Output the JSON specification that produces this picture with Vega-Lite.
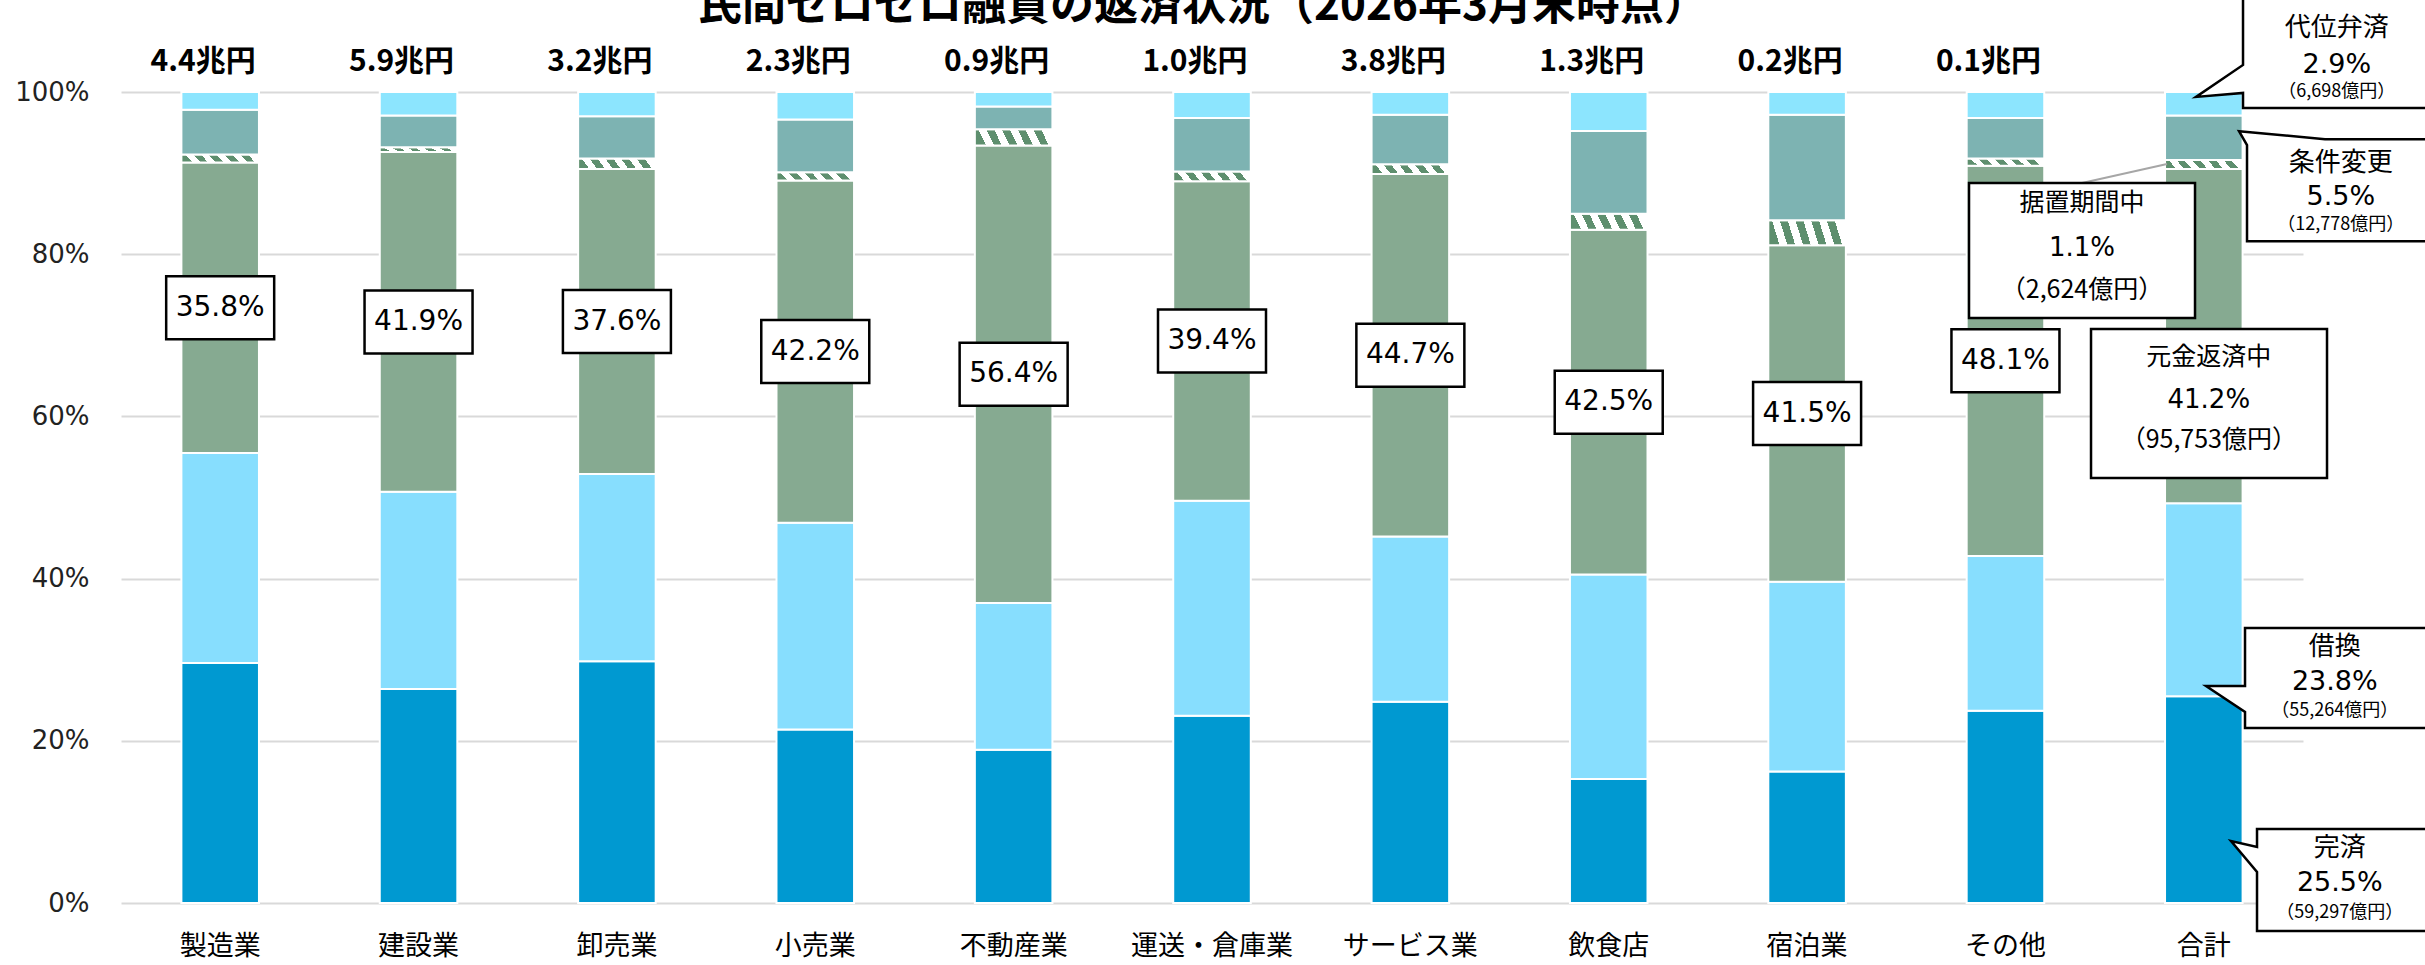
{
  "$schema": "https://vega.github.io/schema/vega-lite/v6.json",
  "width": 2182,
  "height": 811,
  "autosize": {"type": "none"},
  "padding": {"left": 121, "top": 92, "right": 122, "bottom": 62},
  "background": "white",
  "config": {"view": {"stroke": null}, "font": "Noto Sans CJK JP"},
  "title": {"text": "民間ゼロゼロ融資の返済状況（2026年3月末時点）", "font": "Noto Sans CJK JP", "fontSize": 44, "fontWeight": "bold", "color": "#000000", "anchor": "middle", "dx": -9, "dy": 39, "offset": 0},
  "datasets": {
    "main": [
      {"cat": "製造業", "seg": "完済", "o": 1, "v": 0.296},
      {"cat": "製造業", "seg": "借換", "o": 2, "v": 0.259},
      {"cat": "製造業", "seg": "元金返済中", "o": 3, "v": 0.358},
      {"cat": "製造業", "seg": "据置期間中", "o": 4, "v": 0.010},
      {"cat": "製造業", "seg": "条件変更", "o": 5, "v": 0.055},
      {"cat": "製造業", "seg": "代位弁済", "o": 6, "v": 0.022},
      {"cat": "建設業", "seg": "完済", "o": 1, "v": 0.264},
      {"cat": "建設業", "seg": "借換", "o": 2, "v": 0.243},
      {"cat": "建設業", "seg": "元金返済中", "o": 3, "v": 0.419},
      {"cat": "建設業", "seg": "据置期間中", "o": 4, "v": 0.006},
      {"cat": "建設業", "seg": "条件変更", "o": 5, "v": 0.039},
      {"cat": "建設業", "seg": "代位弁済", "o": 6, "v": 0.029},
      {"cat": "卸売業", "seg": "完済", "o": 1, "v": 0.298},
      {"cat": "卸売業", "seg": "借換", "o": 2, "v": 0.231},
      {"cat": "卸売業", "seg": "元金返済中", "o": 3, "v": 0.376},
      {"cat": "卸売業", "seg": "据置期間中", "o": 4, "v": 0.013},
      {"cat": "卸売業", "seg": "条件変更", "o": 5, "v": 0.052},
      {"cat": "卸売業", "seg": "代位弁済", "o": 6, "v": 0.030},
      {"cat": "小売業", "seg": "完済", "o": 1, "v": 0.214},
      {"cat": "小売業", "seg": "借換", "o": 2, "v": 0.255},
      {"cat": "小売業", "seg": "元金返済中", "o": 3, "v": 0.422},
      {"cat": "小売業", "seg": "据置期間中", "o": 4, "v": 0.010},
      {"cat": "小売業", "seg": "条件変更", "o": 5, "v": 0.065},
      {"cat": "小売業", "seg": "代位弁済", "o": 6, "v": 0.034},
      {"cat": "不動産業", "seg": "完済", "o": 1, "v": 0.189},
      {"cat": "不動産業", "seg": "借換", "o": 2, "v": 0.181},
      {"cat": "不動産業", "seg": "元金返済中", "o": 3, "v": 0.564},
      {"cat": "不動産業", "seg": "据置期間中", "o": 4, "v": 0.020},
      {"cat": "不動産業", "seg": "条件変更", "o": 5, "v": 0.028},
      {"cat": "不動産業", "seg": "代位弁済", "o": 6, "v": 0.018},
      {"cat": "運送・倉庫業", "seg": "完済", "o": 1, "v": 0.231},
      {"cat": "運送・倉庫業", "seg": "借換", "o": 2, "v": 0.265},
      {"cat": "運送・倉庫業", "seg": "元金返済中", "o": 3, "v": 0.394},
      {"cat": "運送・倉庫業", "seg": "据置期間中", "o": 4, "v": 0.012},
      {"cat": "運送・倉庫業", "seg": "条件変更", "o": 5, "v": 0.066},
      {"cat": "運送・倉庫業", "seg": "代位弁済", "o": 6, "v": 0.032},
      {"cat": "サービス業", "seg": "完済", "o": 1, "v": 0.248},
      {"cat": "サービス業", "seg": "借換", "o": 2, "v": 0.204},
      {"cat": "サービス業", "seg": "元金返済中", "o": 3, "v": 0.447},
      {"cat": "サービス業", "seg": "据置期間中", "o": 4, "v": 0.012},
      {"cat": "サービス業", "seg": "条件変更", "o": 5, "v": 0.061},
      {"cat": "サービス業", "seg": "代位弁済", "o": 6, "v": 0.028},
      {"cat": "飲食店", "seg": "完済", "o": 1, "v": 0.153},
      {"cat": "飲食店", "seg": "借換", "o": 2, "v": 0.252},
      {"cat": "飲食店", "seg": "元金返済中", "o": 3, "v": 0.425},
      {"cat": "飲食店", "seg": "据置期間中", "o": 4, "v": 0.020},
      {"cat": "飲食店", "seg": "条件変更", "o": 5, "v": 0.102},
      {"cat": "飲食店", "seg": "代位弁済", "o": 6, "v": 0.048},
      {"cat": "宿泊業", "seg": "完済", "o": 1, "v": 0.162},
      {"cat": "宿泊業", "seg": "借換", "o": 2, "v": 0.234},
      {"cat": "宿泊業", "seg": "元金返済中", "o": 3, "v": 0.415},
      {"cat": "宿泊業", "seg": "据置期間中", "o": 4, "v": 0.031},
      {"cat": "宿泊業", "seg": "条件変更", "o": 5, "v": 0.130},
      {"cat": "宿泊業", "seg": "代位弁済", "o": 6, "v": 0.028},
      {"cat": "その他", "seg": "完済", "o": 1, "v": 0.237},
      {"cat": "その他", "seg": "借換", "o": 2, "v": 0.191},
      {"cat": "その他", "seg": "元金返済中", "o": 3, "v": 0.481},
      {"cat": "その他", "seg": "据置期間中", "o": 4, "v": 0.009},
      {"cat": "その他", "seg": "条件変更", "o": 5, "v": 0.050},
      {"cat": "その他", "seg": "代位弁済", "o": 6, "v": 0.032},
      {"cat": "合計", "seg": "完済", "o": 1, "v": 0.255},
      {"cat": "合計", "seg": "借換", "o": 2, "v": 0.238},
      {"cat": "合計", "seg": "元金返済中", "o": 3, "v": 0.412},
      {"cat": "合計", "seg": "据置期間中", "o": 4, "v": 0.011},
      {"cat": "合計", "seg": "条件変更", "o": 5, "v": 0.055},
      {"cat": "合計", "seg": "代位弁済", "o": 6, "v": 0.029}
    ],
    "totals": [
      {"cat": "製造業", "t": "4.4兆円"},
      {"cat": "建設業", "t": "5.9兆円"},
      {"cat": "卸売業", "t": "3.2兆円"},
      {"cat": "小売業", "t": "2.3兆円"},
      {"cat": "不動産業", "t": "0.9兆円"},
      {"cat": "運送・倉庫業", "t": "1.0兆円"},
      {"cat": "サービス業", "t": "3.8兆円"},
      {"cat": "飲食店", "t": "1.3兆円"},
      {"cat": "宿泊業", "t": "0.2兆円"},
      {"cat": "その他", "t": "0.1兆円"}
    ],
    "callouts": [
      {"seg": "代位弁済", "pct": "2.9%", "amt": "（6,698億円）"},
      {"seg": "条件変更", "pct": "5.5%", "amt": "（12,778億円）"},
      {"seg": "据置期間中", "pct": "1.1%", "amt": "（2,624億円）"},
      {"seg": "元金返済中", "pct": "41.2%", "amt": "（95,753億円）"},
      {"seg": "借換", "pct": "23.8%", "amt": "（55,264億円）"},
      {"seg": "完済", "pct": "25.5%", "amt": "（59,297億円）"}
    ]
  },
  "layer": [
    {
      "data": {"name": "main"},
      "mark": {"type": "bar", "stroke": "white", "strokeWidth": 2},
      "encoding": {
        "x": {"field": "cat", "type": "nominal", "sort": null,
          "scale": {"domain": ["製造業", "建設業", "卸売業", "小売業", "不動産業", "運送・倉庫業", "サービス業", "飲食店", "宿泊業", "その他", "合計"], "paddingInner": 0.609, "paddingOuter": 0.3045},
          "axis": {"title": null, "domain": false, "ticks": false, "labelAngle": 0, "labelFontSize": 27, "labelFont": "Noto Sans CJK JP", "labelColor": "#000000", "labelPadding": 43, "labelBaseline": "middle", "grid": false}},
        "y": {"field": "v", "type": "quantitative", "stack": "zero",
          "scale": {"domain": [0, 1], "nice": false, "zero": true},
          "axis": {"title": null, "values": [0, 0.2, 0.4, 0.6, 0.8, 1], "format": ".0%", "domain": false, "ticks": false, "labelFontSize": 26, "labelFont": "DejaVu Sans", "labelColor": "#222222", "labelPadding": 32, "grid": true, "gridColor": "#D9D9D9", "gridWidth": 2}},
        "order": {"field": "o", "type": "quantitative"},
        "fill": {
          "condition": {"test": "datum.seg === '据置期間中'", "value": {"gradient": "linear", "x1": 0, "y1": 0.55, "x2": 1, "y2": 0.45, "stops": [
            {"offset": 0, "color": "#5E8F6E"}, {"offset": 0.1, "color": "#5E8F6E"}, {"offset": 0.1, "color": "#FFFFFF"}, {"offset": 0.2, "color": "#FFFFFF"},
            {"offset": 0.2, "color": "#5E8F6E"}, {"offset": 0.3, "color": "#5E8F6E"}, {"offset": 0.3, "color": "#FFFFFF"}, {"offset": 0.4, "color": "#FFFFFF"},
            {"offset": 0.4, "color": "#5E8F6E"}, {"offset": 0.5, "color": "#5E8F6E"}, {"offset": 0.5, "color": "#FFFFFF"}, {"offset": 0.6, "color": "#FFFFFF"},
            {"offset": 0.6, "color": "#5E8F6E"}, {"offset": 0.7, "color": "#5E8F6E"}, {"offset": 0.7, "color": "#FFFFFF"}, {"offset": 0.8, "color": "#FFFFFF"},
            {"offset": 0.8, "color": "#5E8F6E"}, {"offset": 0.9, "color": "#5E8F6E"}, {"offset": 0.9, "color": "#FFFFFF"}, {"offset": 1, "color": "#FFFFFF"}]}},
          "field": "seg", "type": "nominal",
          "scale": {"domain": ["完済", "借換", "元金返済中", "据置期間中", "条件変更", "代位弁済"], "range": ["#0099D1", "#87DEFE", "#86AA91", "#A8C4AF", "#7DB3B2", "#8CE5FE"]},
          "legend": null
        }
      }
    },
    {
      "data": {"name": "main"},
      "mark": {"type": "point", "shape": "M-54,-31.5H54V31.5H-54Z", "size": 4, "filled": true, "fill": "white", "stroke": "black", "strokeWidth": 2.5, "fillOpacity": 1, "strokeOpacity": 1},
      "encoding": {
        "x": {"field": "cat", "type": "nominal"},
        "y": {"field": "v", "type": "quantitative", "stack": "zero", "bandPosition": 0.5},
        "order": {"field": "o", "type": "quantitative"},
        "detail": {"field": "seg", "type": "nominal"},
        "opacity": {"condition": {"test": "datum.seg === '元金返済中' && datum.cat !== '合計'", "value": 1}, "value": 0}
      }
    },
    {
      "data": {"name": "main"},
      "mark": {"type": "text", "font": "DejaVu Sans", "fontSize": 28, "baseline": "middle", "align": "center", "color": "#000000"},
      "encoding": {
        "x": {"field": "cat", "type": "nominal"},
        "y": {"field": "v", "type": "quantitative", "stack": "zero", "bandPosition": 0.5},
        "order": {"field": "o", "type": "quantitative"},
        "detail": {"field": "seg", "type": "nominal"},
        "text": {"condition": {"test": "datum.seg === '元金返済中' && datum.cat !== '合計'", "field": "v", "type": "quantitative", "format": ".1%"}, "value": ""}
      }
    },
    {
      "data": {"name": "totals"},
      "mark": {"type": "text", "font": "Noto Sans CJK JP", "fontSize": 30, "fontWeight": "bold", "baseline": "middle", "align": "center", "dy": -30, "dx": -17, "color": "#000000"},
      "encoding": {
        "x": {"field": "cat", "type": "nominal"},
        "y": {"datum": 1, "type": "quantitative"},
        "text": {"field": "t"}
      }
    },
    {
      "data": {"name": "callouts"},
      "transform": [{"filter": "datum.seg === '代位弁済'"}],
      "encoding": {"x": {"datum": "合計", "type": "nominal"}, "y": {"datum": 1.05, "type": "quantitative"}},
      "layer": [
        {"mark": {"type": "point", "shape": "M-98.5,-56.5H98.5V56.5H-98.5V41.5L-145.5,45.5L-98.5,13.5Z", "size": 4, "filled": true, "fill": "white", "stroke": "black", "strokeWidth": 2.5, "fillOpacity": 1, "strokeOpacity": 1, "opacity": 1, "xOffset": 137.7}},
        {"mark": {"type": "text", "fontSize": 26, "baseline": "middle", "align": "center", "dx": 133, "dy": -23.5, "color": "#000000"}, "encoding": {"text": {"field": "seg"}}},
        {"mark": {"type": "text", "font": "DejaVu Sans", "fontSize": 27, "baseline": "middle", "align": "center", "dx": 133, "dy": 13.5, "color": "#000000"}, "encoding": {"text": {"field": "pct"}}},
        {"mark": {"type": "text", "fontSize": 18, "baseline": "middle", "align": "center", "dx": 133, "dy": 40.5, "color": "#000000"}, "encoding": {"text": {"field": "amt"}}}
      ]
    },
    {
      "data": {"name": "callouts"},
      "transform": [{"filter": "datum.seg === '条件変更'"}],
      "encoding": {"x": {"datum": "合計", "type": "nominal"}, "y": {"datum": 0.879, "type": "quantitative"}},
      "layer": [
        {"mark": {"type": "point", "shape": "M-18.5,-51H96.5V51H-96.5V-45L-104.5,-59Z", "size": 4, "filled": true, "fill": "white", "stroke": "black", "strokeWidth": 2.5, "fillOpacity": 1, "strokeOpacity": 1, "opacity": 1, "xOffset": 139.7}},
        {"mark": {"type": "text", "fontSize": 26, "baseline": "middle", "align": "center", "dx": 137, "dy": -27, "color": "#000000"}, "encoding": {"text": {"field": "seg"}}},
        {"mark": {"type": "text", "font": "DejaVu Sans", "fontSize": 27, "baseline": "middle", "align": "center", "dx": 137, "dy": 7, "color": "#000000"}, "encoding": {"text": {"field": "pct"}}},
        {"mark": {"type": "text", "fontSize": 18, "baseline": "middle", "align": "center", "dx": 137, "dy": 35, "color": "#000000"}, "encoding": {"text": {"field": "amt"}}}
      ]
    },
    {
      "data": {"name": "callouts"},
      "transform": [{"filter": "datum.seg === '据置期間中'"}],
      "encoding": {"x": {"datum": "合計", "type": "nominal"}, "y": {"datum": 0.8045, "type": "quantitative"}},
      "layer": [
        {"mark": {"type": "point", "shape": "M0,-67.5L85,-86.5", "size": 4, "filled": false, "stroke": "#A6A6A6", "strokeWidth": 2, "strokeOpacity": 1, "opacity": 1, "xOffset": -121.8}},
        {"mark": {"type": "point", "shape": "M-113,-67.5H113V67.5H-113Z", "size": 4, "filled": true, "fill": "white", "stroke": "black", "strokeWidth": 2.5, "fillOpacity": 1, "strokeOpacity": 1, "opacity": 1, "xOffset": -121.8}},
        {"mark": {"type": "text", "fontSize": 25, "baseline": "middle", "align": "center", "dx": -121.8, "dy": -47.5, "color": "#000000"}, "encoding": {"text": {"field": "seg"}}},
        {"mark": {"type": "text", "font": "DejaVu Sans", "fontSize": 26, "baseline": "middle", "align": "center", "dx": -121.8, "dy": -2.5, "color": "#000000"}, "encoding": {"text": {"field": "pct"}}},
        {"mark": {"type": "text", "fontSize": 25, "baseline": "middle", "align": "center", "dx": -121.8, "dy": 39.5, "color": "#000000"}, "encoding": {"text": {"field": "amt"}}}
      ]
    },
    {
      "data": {"name": "callouts"},
      "transform": [{"filter": "datum.seg === '元金返済中'"}],
      "encoding": {"x": {"datum": "合計", "type": "nominal"}, "y": {"datum": 0.616, "type": "quantitative"}},
      "layer": [
        {"mark": {"type": "point", "shape": "M-118,-74.5H118V74.5H-118Z", "size": 4, "filled": true, "fill": "white", "stroke": "black", "strokeWidth": 2.5, "fillOpacity": 1, "strokeOpacity": 1, "opacity": 1, "xOffset": 5.2}},
        {"mark": {"type": "text", "fontSize": 25, "baseline": "middle", "align": "center", "dx": 5, "dy": -46.5, "color": "#000000"}, "encoding": {"text": {"field": "seg"}}},
        {"mark": {"type": "text", "font": "DejaVu Sans", "fontSize": 26, "baseline": "middle", "align": "center", "dx": 5, "dy": -3.5, "color": "#000000"}, "encoding": {"text": {"field": "pct"}}},
        {"mark": {"type": "text", "fontSize": 25, "baseline": "middle", "align": "center", "dx": 5, "dy": 36.5, "color": "#000000"}, "encoding": {"text": {"field": "amt"}}}
      ]
    },
    {
      "data": {"name": "callouts"},
      "transform": [{"filter": "datum.seg === '借換'"}],
      "encoding": {"x": {"datum": "合計", "type": "nominal"}, "y": {"datum": 0.2774, "type": "quantitative"}},
      "layer": [
        {"mark": {"type": "point", "shape": "M-97.5,-50H97.5V50H-97.5V34L-136.5,8L-97.5,8Z", "size": 4, "filled": true, "fill": "white", "stroke": "black", "strokeWidth": 2.5, "fillOpacity": 1, "strokeOpacity": 1, "opacity": 1, "xOffset": 138.7}},
        {"mark": {"type": "text", "fontSize": 26, "baseline": "middle", "align": "center", "dx": 131, "dy": -31, "color": "#000000"}, "encoding": {"text": {"field": "seg"}}},
        {"mark": {"type": "text", "font": "DejaVu Sans", "fontSize": 27, "baseline": "middle", "align": "center", "dx": 131, "dy": 4, "color": "#000000"}, "encoding": {"text": {"field": "pct"}}},
        {"mark": {"type": "text", "fontSize": 18, "baseline": "middle", "align": "center", "dx": 131, "dy": 33, "color": "#000000"}, "encoding": {"text": {"field": "amt"}}}
      ]
    },
    {
      "data": {"name": "callouts"},
      "transform": [{"filter": "datum.seg === '完済'"}],
      "encoding": {"x": {"datum": "合計", "type": "nominal"}, "y": {"datum": 0.0284, "type": "quantitative"}},
      "layer": [
        {"mark": {"type": "point", "shape": "M-91.5,-51H91.5V51H-91.5V-8L-117.5,-39L-91.5,-33Z", "size": 4, "filled": true, "fill": "white", "stroke": "black", "strokeWidth": 2.5, "fillOpacity": 1, "strokeOpacity": 1, "opacity": 1, "xOffset": 144.7}},
        {"mark": {"type": "text", "fontSize": 26, "baseline": "middle", "align": "center", "dx": 136, "dy": -32, "color": "#000000"}, "encoding": {"text": {"field": "seg"}}},
        {"mark": {"type": "text", "font": "DejaVu Sans", "fontSize": 27, "baseline": "middle", "align": "center", "dx": 136, "dy": 3, "color": "#000000"}, "encoding": {"text": {"field": "pct"}}},
        {"mark": {"type": "text", "fontSize": 18, "baseline": "middle", "align": "center", "dx": 136, "dy": 33, "color": "#000000"}, "encoding": {"text": {"field": "amt"}}}
      ]
    }
  ]
}
